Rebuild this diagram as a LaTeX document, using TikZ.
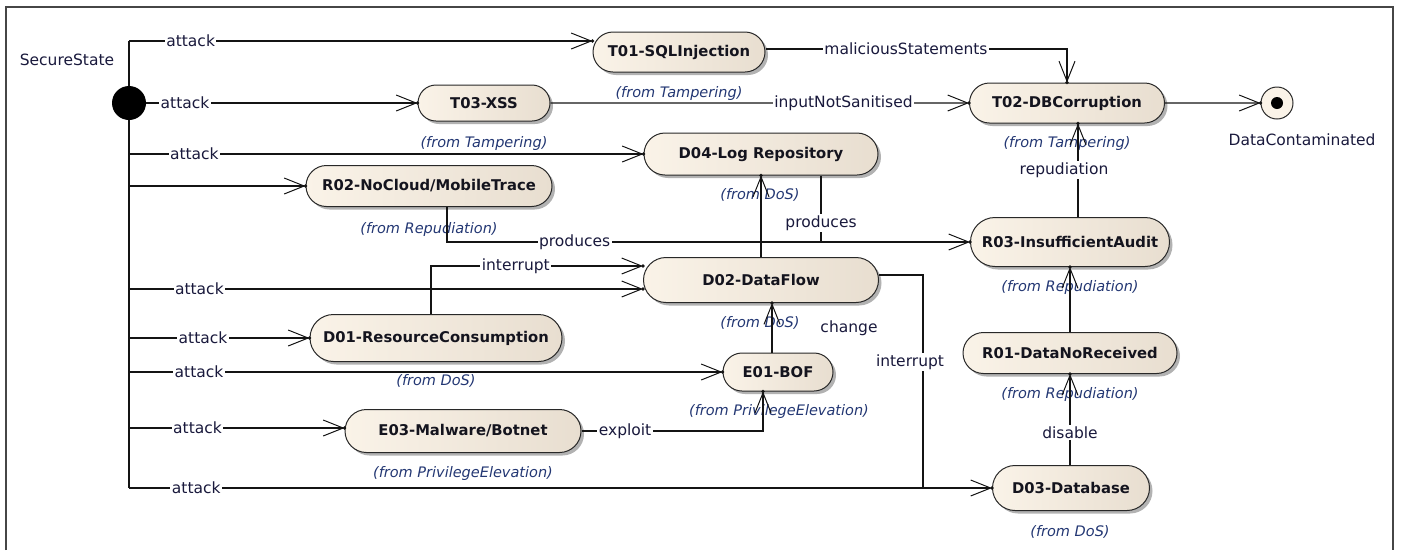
\documentclass[tikz,border=0pt]{standalone}
\usepackage{fontspec}
\setmainfont{DejaVu Sans}
\usetikzlibrary{arrows.meta,shapes.misc,shadows,decorations.markings}
\definecolor{lbl}{RGB}{25,25,60}
\definecolor{frm}{RGB}{35,55,115}
\definecolor{edgec}{RGB}{20,20,20}
\definecolor{fillL}{RGB}{250,243,232}
\definecolor{fillR}{RGB}{232,222,208}
\definecolor{bord}{RGB}{40,40,40}
\definecolor{ntext}{RGB}{20,20,30}
\definecolor{framec}{RGB}{70,70,70}
\begin{document}
\begin{tikzpicture}[x=1pt,y=-1pt,
 state/.style={rounded rectangle, draw=bord, line width=1pt, left color=fillL, right color=fillR,
   font=\fontsize{14.8}{16}\selectfont\bfseries, text=ntext, inner sep=0pt,
   drop shadow={shadow xshift=3pt,shadow yshift=-3pt,opacity=0.3,fill=black}},
 fromlab/.style={font=\fontsize{14.5}{16}\selectfont\itshape, text=frm, inner sep=0pt},
 lab/.style={font=\fontsize{15.5}{17}\selectfont, text=lbl, fill=white, inner sep=1.5pt},
 plainlab/.style={font=\fontsize{15.5}{17}\selectfont, text=lbl, inner sep=0pt},
 conn/.style={draw=edgec, line width=1.2pt},
 arr/.style={conn, -{Straight Barb[length=20pt,width=16pt,line width=1pt]},
   postaction={decorate, decoration={markings, mark=at position 1 with {\fill[edgec] (0,0) circle (1.8pt);}}}},
]
\useasboundingbox (0,0) rectangle (1403,550);
% frame
\draw[framec, line width=1.2pt] (6,550) -- (6,7) -- (1393,7) -- (1393,550);

% initial and final states
\node[circle, fill=black, minimum size=34pt, inner sep=0pt] (init) at (129,103) {};
\node[plainlab] (secl) at (67,60) {SecureState};
\node[circle, draw=bord, line width=1pt, fill=fillL, minimum size=32pt, inner sep=0pt,
  path picture={\fill[black] (path picture bounding box.center) circle (6pt);}] (fin) at (1277,103) {};
\node[plainlab] (finl) at (1302,140) {DataContaminated};

% states
\node[state, minimum width=172pt, minimum height=40pt] (t01) at (679,52) {T01-SQLInjection};
\node[fromlab] (t01f) at (679,93) {(from Tampering)};
\node[state, minimum width=132pt, minimum height=36pt] (t03) at (484,103) {T03-XSS};
\node[fromlab] (t03f) at (484,143) {(from Tampering)};
\node[state, minimum width=234pt, minimum height=42pt] (d04) at (761,154) {D04-Log Repository};
\node[fromlab] (d04f) at (760,195) {(from DoS)};
\node[state, minimum width=246pt, minimum height=41pt] (r02) at (429,186) {R02-NoCloud/MobileTrace};
\node[fromlab] (r02f) at (429,229) {(from Repudiation)};
\node[state, minimum width=235pt, minimum height=45pt] (d02) at (761,280) {D02-DataFlow};
\node[fromlab] (d02f) at (760,323) {(from DoS)};
\node[state, minimum width=252pt, minimum height=47pt] (d01) at (436,338) {D01-ResourceConsumption};
\node[fromlab] (d01f) at (436,381) {(from DoS)};
\node[state, minimum width=110pt, minimum height=38pt] (e01) at (778,372) {E01-BOF};
\node[fromlab] (e01f) at (779,411) {(from PrivilegeElevation)};
\node[state, minimum width=236pt, minimum height=43pt] (e03) at (463,431) {E03-Malware/Botnet};
\node[fromlab] (e03f) at (463,473) {(from PrivilegeElevation)};
\node[state, minimum width=195pt, minimum height=40pt] (t02) at (1067,103) {T02-DBCorruption};
\node[fromlab] (t02f) at (1067,143) {(from Tampering)};
\node[state, minimum width=199pt, minimum height=49pt] (r03) at (1070,242) {R03-InsufficientAudit};
\node[fromlab] (r03f) at (1070,287) {(from Repudiation)};
\node[state, minimum width=214pt, minimum height=41pt] (r01) at (1070,353) {R01-DataNoReceived};
\node[fromlab] (r01f) at (1070,394) {(from Repudiation)};
\node[state, minimum width=157pt, minimum height=45pt] (d03) at (1071,488) {D03-Database};
\node[fromlab] (d03f) at (1070,532) {(from DoS)};

% trunk coordinates
\coordinate (b41) at (129,41);
\coordinate (b154) at (129,154);
\coordinate (b186) at (129,186);
\coordinate (b289) at (129,289);
\coordinate (b338) at (129,338);
\coordinate (b372) at (129,372);
\coordinate (b428) at (129,428);
\coordinate (b488) at (129,488);
\coordinate (m488) at (923,488);

\draw[conn] (b41) -- (init) -- (b488);

% attack transitions
\draw[arr] (b41) -- node[lab,pos=.133]{attack} (b41 -| t01.west);
\draw[arr] (init) -- node[lab,pos=.143]{attack} (t03);
\draw[arr] (b154) -- node[lab,pos=.127]{attack} (d04);
\draw[arr] (b186) -- (r02);
\draw[arr] (b289) -- node[lab,pos=.137]{attack} (b289 -| d02.west);
\draw[arr] (b338) -- node[lab,pos=.41]{attack} (d01);
\draw[arr] (b372) -- node[lab,pos=.118]{attack} (e01);
\draw[arr] (b428) -- node[lab,pos=.318]{attack} (b428 -| e03.west);
\draw[arr] (b488) -- node[lab,pos=.078]{attack} (b488 -| d03.west);

% other transitions
\draw[arr] ([yshift=3pt]t01.east) -| node[lab,pos=.233]{maliciousStatements} (t02.north);
\draw[arr] (t03) -- node[lab,pos=.70]{inputNotSanitised} (t02);
\draw[arr] (t02) -- (fin);
\draw[arr] ([xshift=8pt]r03.north) -- node[lab,pos=.5,xshift=-14pt]{repudiation} ([xshift=8pt]r03.north |- t02.south);
\draw[arr] ([xshift=18pt]r02.south) |- node[lab,pos=.622]{produces} (r03.west);
\draw[conn] ([xshift=60pt]d04.south) -- node[lab,pos=.72]{produces} ([xshift=60pt]d04.south |- r03.west);
\draw[arr] (d02.north) -- (d04.south);
\draw[arr] ([xshift=-5pt]d01.north) |- node[lab,pos=.70]{interrupt} ([yshift=14pt]d02.west);
\draw[conn] ([yshift=5pt]d02.east) -| node[lab,pos=.704,xshift=-13pt]{interrupt} (m488);
\draw[arr] ([xshift=-6pt]e01.north) -- node[plainlab,pos=.5,xshift=77pt]{change} ([xshift=-6pt]e01.north |- d02.south);
\draw[arr] (e03.east) -| node[lab,pos=.12]{exploit} ([xshift=-15pt]e01.south);
\draw[arr] (r01.north) -- (r03.south);
\draw[arr] ([xshift=-1pt]d03.north) -- node[lab,pos=.36]{disable} ([xshift=-1pt]d03.north |- r01.south);
\end{tikzpicture}
\end{document}
